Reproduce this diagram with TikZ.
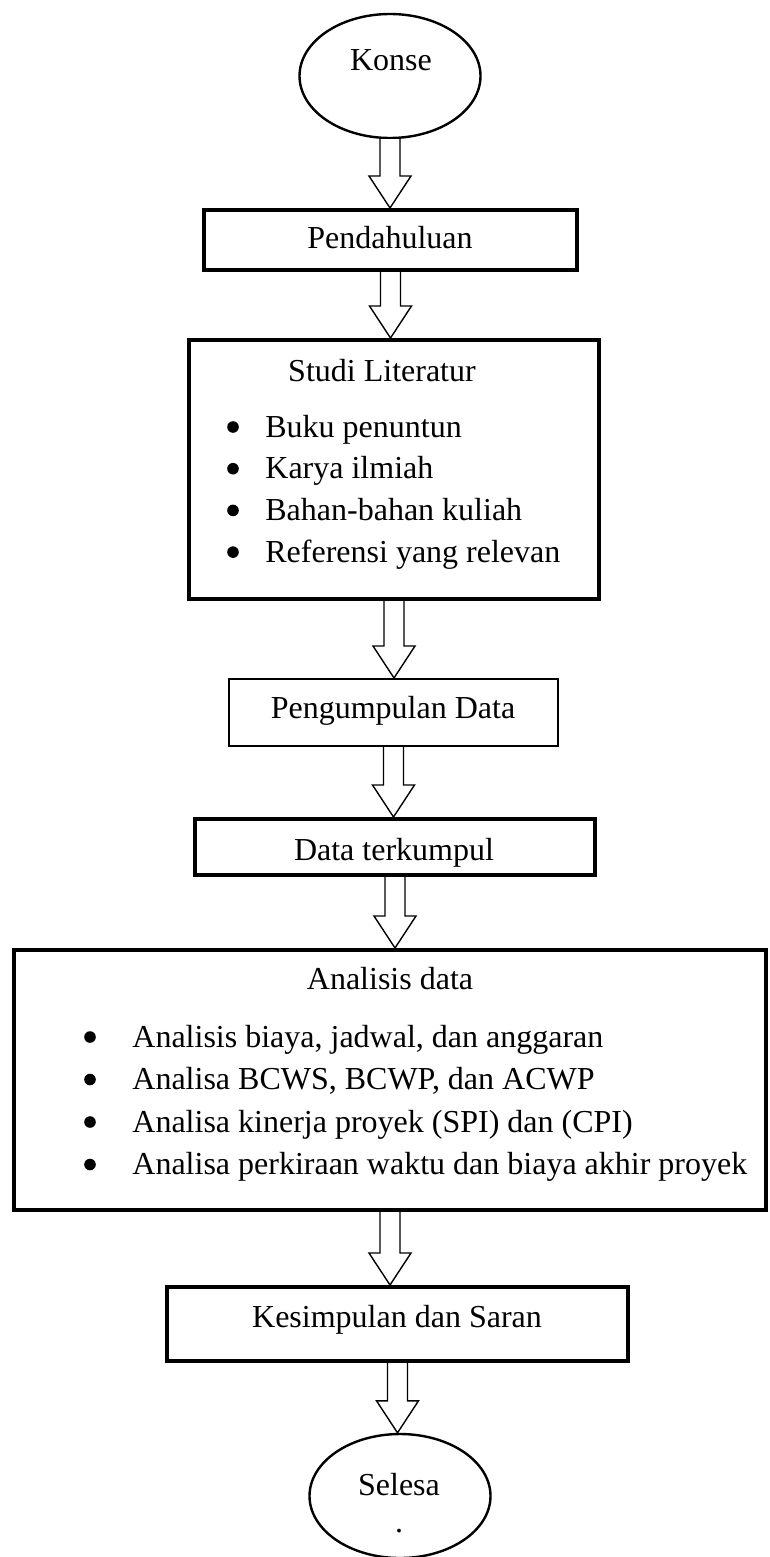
\documentclass[tikz,border=0pt]{standalone}
\usepackage{fontspec}
\setmainfont{Liberation Serif}
\usetikzlibrary{shapes.geometric,calc}

\tikzset{
  bold box/.style={draw, line width=2.2pt, inner sep=0pt},
  thin box/.style={draw, line width=1.2pt, inner sep=0pt},
  oval/.style={draw, ellipse, line width=1.2pt, inner sep=0pt,
    minimum width=90.5pt, minimum height=62pt},
  txt/.style={anchor=base, inner sep=0pt, font=\fontsize{16}{19}\selectfont},
  item/.style={anchor=base west, inner sep=0pt, font=\fontsize{16}{19}\selectfont},
  hollow/.style={draw, line width=0.7pt, fill=white, line join=miter}
}

% hollow block arrow from the bottom of #1 to the top of #2
\newcommand{\blockdown}[2]{%
  \draw[hollow] let \p1=(#1.south), \p2=(#2.north) in
    (\x1-5pt,\y1) -- (\x1-5pt,\y2+16pt) -- (\x1-10.5pt,\y2+16pt) -- (\x1,\y2)
    -- (\x1+10.5pt,\y2+16pt) -- (\x1+5pt,\y2+16pt) -- (\x1+5pt,\y1);}

\begin{document}
\begin{tikzpicture}[x=0.5pt,y=-0.5pt]
\useasboundingbox (0,0) rectangle (770,1557);

\node[oval] (konse) at (390,76) {};
\node[txt] (konse-t) at (391,71) {Konse};

\node[bold box, minimum width=186.3pt, minimum height=29.8pt] (pendahuluan) at (390.5,240) {};
\node[txt] (pendahuluan-t) at (390,249) {Pendahuluan};

\node[bold box, minimum width=204.8pt, minimum height=129.3pt] (studi) at (394,469.5) {};
\node[txt] (studi-t) at (382,381) {Studi Literatur};
\foreach \t [count=\i from 0] in {Buku penuntun, Karya ilmiah, Bahan-bahan kuliah, Referensi yang relevan}{
  \fill (233,427+41.7*\i) circle (2.9pt);
  \node[item] (studi-\i) at (265,437+41.7*\i) {\t};
}

\node[thin box, minimum width=164.3pt, minimum height=33.3pt] (pengumpulan) at (393.5,712.5) {};
\node[txt] (pengumpulan-t) at (393,718) {Pengumpulan Data};

\node[bold box, minimum width=199.8pt, minimum height=27.8pt] (terkumpul) at (395,847) {};
\node[txt] (terkumpul-t) at (394,860) {Data terkumpul};

\node[bold box, minimum width=375.8pt, minimum height=129.8pt] (analisis) at (390,1080) {};
\node[txt] (analisis-t) at (390,989) {Analisis data};
\foreach \t [count=\i from 0] in {{Analisis biaya, jadwal, dan anggaran},
    {Analisa BCWS, BCWP, dan ACWP}, {Analisa kinerja proyek (SPI) dan (CPI)},
    {Analisa perkiraan waktu dan biaya akhir proyek}}{
  \fill (90,1037+42.5*\i) circle (2.9pt);
  \node[item] (analisis-\i) at (132,1047+42.5*\i) {\t};
}

\node[bold box, minimum width=230.3pt, minimum height=36.8pt] (kesimpulan) at (397.5,1324) {};
\node[txt] (kesimpulan-t) at (397,1327) {Kesimpulan dan Saran};

\node[oval] (selesa) at (400,1496) {};
\node[txt] (selesa-t) at (399,1495) {Selesa};
\node[txt] (selesa-dot) at (399,1532) {.};

\blockdown{konse}{pendahuluan}
\blockdown{pendahuluan}{studi}
\blockdown{studi}{pengumpulan}
\blockdown{pengumpulan}{terkumpul}
\blockdown{terkumpul}{analisis}
\blockdown{analisis}{kesimpulan}
\blockdown{kesimpulan}{selesa}
\end{tikzpicture}
\end{document}
